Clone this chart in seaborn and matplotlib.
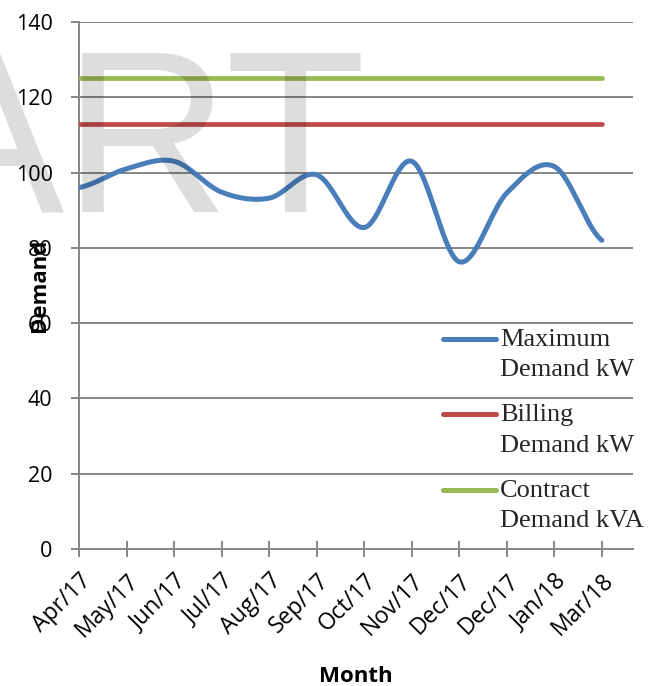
import numpy as np
import pandas as pd
import matplotlib
matplotlib.use("Agg")
import matplotlib.pyplot as plt
import seaborn as sns

# ---- data ----
months = ["Apr/17", "May/17", "Jun/17", "Jul/17", "Aug/17", "Sep/17",
          "Oct/17", "Nov/17", "Dec/17", "Dec/17", "Jan/18", "Mar/18"]
max_demand = [96, 101, 103, 94.8, 93.2, 99.4, 85.4, 103, 76.3, 94.6, 101.6, 82]
billing_demand = [113] * 12
contract_demand = [125] * 12
y_ticks = [0, 20, 40, 60, 80, 100, 120, 140]
series_names = ["Maximum\nDemand kW", "Billing\nDemand kW", "Contract\nDemand kVA"]
colors = ["#4A7EBB", "#BE4B48", "#98B954"]


def smooth(y, n=40):
    """Catmull-Rom spline through the points (like Excel's smoothed line)."""
    y = np.asarray(y, float)
    p = np.concatenate([[y[0]], y, [y[-1]]])
    xs, ys = [], []
    for i in range(len(y) - 1):
        p0, p1, p2, p3 = p[i], p[i + 1], p[i + 2], p[i + 3]
        t = np.linspace(0, 1, n, endpoint=False)
        yy = 0.5 * ((2 * p1) + (-p0 + p2) * t + (2 * p0 - 5 * p1 + 4 * p2 - p3) * t ** 2
                    + (-p0 + 3 * p1 - 3 * p2 + p3) * t ** 3)
        xs.append(i + t)
        ys.append(yy)
    xs.append([len(y) - 1])
    ys.append([y[-1]])
    return np.concatenate(xs), np.concatenate(ys)


sns.set_theme(style="white")
plt.rcParams['font.family'] = ['Open Sans', 'DejaVu Sans']

W, H = 665, 686
fig = plt.figure(figsize=(W / 100, H / 100), dpi=100)
ax = fig.add_axes([79 / W, (H - 549) / H, 554 / W, 527 / H])
ax.set_facecolor("none")

x_pos = np.arange(len(months))
sx, sy = smooth(max_demand)
df_max = pd.DataFrame({"x": sx, "y": sy})
df_bill = pd.DataFrame({"x": x_pos, "y": billing_demand})
df_con = pd.DataFrame({"x": x_pos, "y": contract_demand})

sns.lineplot(data=df_max, x="x", y="y", ax=ax, color=colors[0], lw=3.6,
             sort=False, estimator=None, label=series_names[0],
             solid_capstyle="round", zorder=3)
sns.lineplot(data=df_bill, x="x", y="y", ax=ax, color=colors[1], lw=3.4,
             sort=False, estimator=None, label=series_names[1], zorder=3)
sns.lineplot(data=df_con, x="x", y="y", ax=ax, color=colors[2], lw=3.4,
             sort=False, estimator=None, label=series_names[2], zorder=3)

ax.set_xlim(0, 553 / 47.45)
ax.set_ylim(0, 140)
ax.set_yticks(y_ticks)
ax.set_yticklabels([str(v) for v in y_ticks])
ax.set_xticks(x_pos)
ax.set_xticklabels(months)

gray = "#868686"
ax.yaxis.grid(True, color=gray, lw=1.4)
ax.xaxis.grid(False)
ax.set_axisbelow(True)
for s in ["top", "right"]:
    ax.spines[s].set_visible(False)
for s in ["left", "bottom"]:
    ax.spines[s].set_color(gray)
    ax.spines[s].set_linewidth(1.4)

ax.tick_params(axis="y", left=True, direction="out", length=6, width=1.4,
               color=gray, pad=13, labelsize=15.5, labelcolor="black")
ax.tick_params(axis="x", bottom=True, direction="inout", length=11, width=1.4,
               color=gray, pad=9, labelsize=16.5, labelcolor="black")
plt.setp(ax.get_xticklabels(), rotation=45, ha="right", rotation_mode="anchor")

ax.set_xlabel("Month", fontsize=16, fontweight="bold", color="black")
ax.set_ylabel("Demand", fontsize=16, fontweight="bold", color="black")
ax.xaxis.set_label_coords((356 - 79) / 554, (549 - 666) / 527)
ax.yaxis.set_label_coords((50 - 79) / 554, 0.5)

leg = ax.legend(loc="upper left", bbox_to_anchor=((443 - 79) / 554, (549 - 329) / 527),
                frameon=False, prop={"family": "Liberation Serif", "size": 19},
                handlelength=2.0, handletextpad=0.15, labelspacing=0.87,
                borderpad=0, borderaxespad=0)
for t in leg.get_texts():
    t.set_linespacing(1.5)
for h in leg.legend_handles:
    h.set_linewidth(3.6)
    h.set_solid_capstyle("round")
    h.set_ydata(np.asarray(h.get_ydata()) + 11.2)

fig.text(-89 / W, (H - 212) / H, "ART", fontsize=165.6, family="Liberation Sans",
         color="black", alpha=0.135, ha="left", va="baseline", zorder=10)

fig.savefig("out.png", dpi=100)
